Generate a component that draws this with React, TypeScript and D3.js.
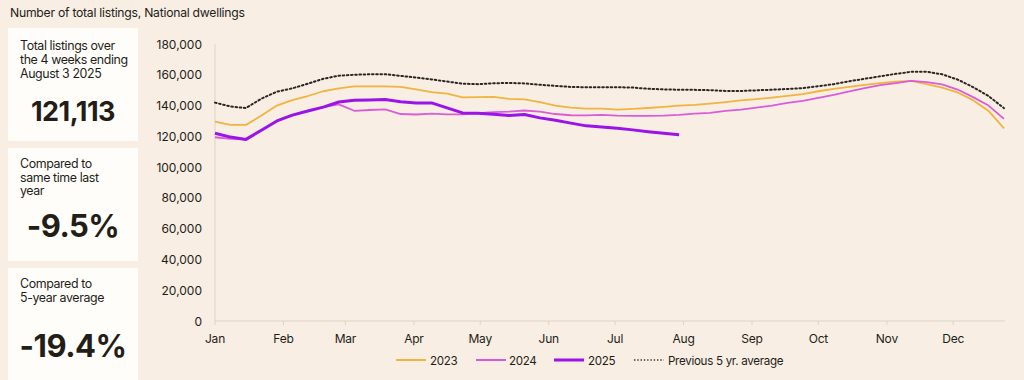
import React from "react";
import * as d3 from "d3";

const title = "Number of total listings, National dwellings";
const monthLabels = ["Jan", "Feb", "Mar", "Apr", "May", "Jun", "Jul", "Aug", "Sep", "Oct", "Nov", "Dec"];
const yTicks = [0, 20000, 40000, 60000, 80000, 100000, 120000, 140000, 160000, 180000];

// weekly values, thousands
const s2023 = [129.6, 127.4, 127.4, 133.5, 140, 143.5, 146.2, 149.3, 151.1, 152.5, 152.5, 152.5, 152.1, 150.5, 148.7, 147.8, 145.3, 145.5, 145.6, 144.3, 144, 142.3, 140, 138.6, 138, 138, 137.4, 137.8, 138.4, 139.2, 140, 140.4, 141.2, 142.2, 143.3, 144.2, 145.2, 146.3, 147.4, 149.3, 150.9, 152.2, 153.5, 154.6, 155.6, 156, 154, 151.7, 148.5, 143.5, 136.5, 125.2];
const s2024 = [119.4, 118.3, 118, 124, 130, 133.8, 136.5, 139, 140.8, 136.6, 137.1, 137.5, 134.5, 134.2, 134.8, 134.3, 134.3, 135, 135.7, 136, 136.8, 136, 134.5, 133.7, 133.6, 134, 133.4, 133.3, 133.3, 133.4, 133.9, 134.7, 135.3, 136.5, 137.4, 138.6, 140, 141.8, 143, 145, 147, 149.2, 151.3, 153.3, 154.6, 156, 155.2, 153.8, 150.4, 145.5, 140, 131.3];
const s2025 = [122, 119.5, 118, 124, 130, 133.8, 136.5, 139, 142.3, 143.4, 143.6, 143.9, 142.5, 141.7, 141.7, 138.5, 135.2, 135, 134.4, 133.6, 134.2, 132, 130.5, 128.6, 126.8, 126, 125.2, 124.2, 123, 122, 121.1];
const sAvg = [141.9, 139.4, 138.4, 144.5, 149, 151.2, 154.2, 157.4, 159.4, 160, 160.3, 160.4, 159.3, 158.2, 157, 155.6, 154.2, 153.9, 154.5, 154.7, 154.4, 153.5, 152.8, 152.1, 151.9, 151.9, 151.9, 151.7, 150.9, 150.5, 150.3, 150.2, 150, 149.5, 149.5, 149.9, 150.3, 150.8, 151.3, 152.6, 153.9, 155.8, 157.4, 159, 160.6, 161.9, 162, 160.3, 156.9, 152, 146.2, 138.3];

const seriesNames = ["2023", "2024", "2025", "Previous 5 yr. average"];

const cardTexts = [
  { lines: ["Total listings over", "the 4 weeks ending", "August 3 2025"], value: "121,113" },
  { lines: ["Compared to", "same time last", "year"], value: "-9.5%" },
  { lines: ["Compared to", "5-year average"], value: "-19.4%" },
];

const FONT = "Inter, 'Noto Sans', sans-serif";
const BG = "#f8eee3";
const TEXT = "#231d18";

export default function App() {
  const W = 1024, H = 380;
  const weekDate = (i: number) => new Date(2025, 0, 1 + 7 * i);
  const x = d3.scaleTime().domain([weekDate(0), weekDate(51)]).range([215, 1004]);
  const y = d3.scaleLinear().domain([0, 180000]).range([321, 44]);
  const line = d3
    .line<number>()
    .x((_, i) => x(weekDate(i)))
    .y((d) => y(d * 1000));

  const monthDates = monthLabels.map((_, m) => new Date(2025, m, 1));

  const series = [
    { name: seriesNames[0], data: s2023, color: "#f0b43f", width: 1.8, dash: undefined as string | undefined },
    { name: seriesNames[1], data: s2024, color: "#db5cd8", width: 1.8, dash: undefined },
    { name: seriesNames[2], data: s2025, color: "#9a14e8", width: 3, dash: undefined },
    { name: seriesNames[3], data: sAvg, color: "#2b2623", width: 2, dash: "1.6,2.6" },
  ];

  const cards = [
    { top: 28, bottom: 141, textY: 50, valueY: 121, valueSize: 27, lh: 14 },
    { top: 148, bottom: 261, textY: 168, valueY: 237, valueSize: 31, lh: 13.5 },
    { top: 268, bottom: 390, textY: 288, valueY: 357, valueSize: 31, lh: 13.5 },
  ];

  const legendItems = [
    { lx: 396, tx: 430 },
    { lx: 476, tx: 509 },
    { lx: 554, tx: 588 },
    { lx: 634, tx: 668 },
  ];

  return (
    <div style={{ position: "fixed", left: 0, top: 0, width: W, height: H, background: BG }}>
      <svg width={W} height={H} style={{ display: "block", fontFamily: FONT }}>
        <rect x={0} y={0} width={W} height={H} fill={BG} />
        <text x={10} y={17} fontSize={12.2} letterSpacing={-0.25} fill={TEXT}>{title}</text>

        {cards.map((c, k) => (
          <g key={k}>
            <rect x={8} y={c.top} width={130} height={c.bottom - c.top} fill="#fffdfa" />
            {cardTexts[k].lines.map((l, j) => (
              <text key={j} x={20} y={c.textY + j * c.lh} fontSize={12.4} letterSpacing={-0.4} fill={TEXT}>{l}</text>
            ))}
            <text x={73} y={c.valueY} fontSize={c.valueSize} fontWeight={700} textAnchor="middle" fill={TEXT} letterSpacing={-0.5}>
              {cardTexts[k].value}
            </text>
          </g>
        ))}

        {/* axes */}
        <line x1={215} x2={215} y1={44} y2={321} stroke="#ddd3c8" strokeWidth={1} />
        <line x1={215} x2={1005} y1={321} y2={321} stroke="#ddd3c8" strokeWidth={1} />
        {yTicks.map((t) => (
          <text key={t} x={202} y={y(t) + 4.5} fontSize={12} textAnchor="end" fill={TEXT}>
            {d3.format(",")(t)}
          </text>
        ))}
        {monthDates.map((d, m) => (
          <g key={m}>
            <line x1={x(d)} x2={x(d)} y1={321} y2={325} stroke="#ddd3c8" />
            <text x={x(d)} y={343} fontSize={12} letterSpacing={-0.2} textAnchor="middle" fill={TEXT}>{monthLabels[m]}</text>
          </g>
        ))}

        {series.map((s) => (
          <path
            key={s.name}
            d={line(s.data) || ""}
            fill="none"
            stroke={s.color}
            strokeWidth={s.width}
            strokeDasharray={s.dash}
            strokeLinejoin="round"
            strokeLinecap={s.dash ? "round" : "butt"}
          />
        ))}

        {/* legend */}
        {series.map((s, k) => (
          <g key={s.name}>
            <line
              x1={legendItems[k].lx}
              x2={legendItems[k].lx + 30}
              y1={360}
              y2={360}
              stroke={s.color}
              strokeWidth={s.dash ? 1.5 : s.width === 3 ? 3 : 2}
              strokeDasharray={s.dash ? "1.3,2" : undefined}
            />
            <text x={legendItems[k].tx} y={364.5} fontSize={11.6} letterSpacing={-0.3} fill={TEXT}>{s.name}</text>
          </g>
        ))}
      </svg>
    </div>
  );
}
